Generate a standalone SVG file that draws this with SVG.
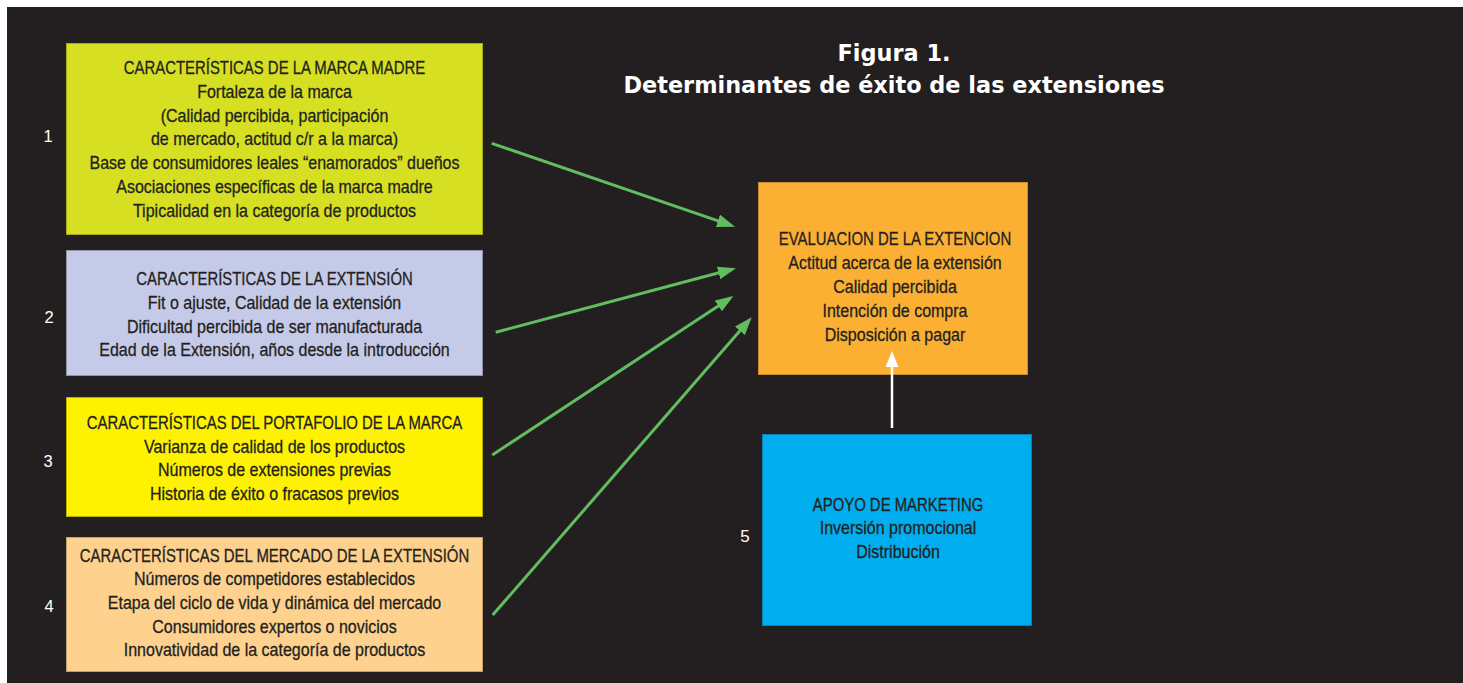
<svg xmlns="http://www.w3.org/2000/svg" width="1463" height="683" viewBox="0 0 1463 683">
  <style>
    .t { font-family: "Liberation Sans", Arial, sans-serif; font-size: 18.4px; fill: #231f20; stroke: #231f20; stroke-width: 0.3px; text-anchor: middle; }
    .num { font-family: "Liberation Sans", Arial, sans-serif; font-size: 16.5px; fill: #ffffff; text-anchor: middle; }
    .ttl { font-family: "DejaVu Sans", "Liberation Sans", sans-serif; font-weight: bold; font-size: 22.4px; fill: #ffffff; text-anchor: middle; }
    .g { stroke: #62bd5f; stroke-width: 3; fill: none; marker-end: url(#ga); }
    .w { stroke: #ffffff; stroke-width: 2.5; fill: none; marker-end: url(#wa); }
  </style>
  <defs>
    <marker id="ga" viewBox="0 0 18 13" markerWidth="18" markerHeight="13" refX="14" refY="6.5" orient="auto" markerUnits="userSpaceOnUse">
      <path d="M0,0 L18,6.5 L0,13 z" fill="#62bd5f"/>
    </marker>
    <marker id="wa" viewBox="0 0 16 13" markerWidth="16" markerHeight="13" refX="12" refY="6.5" orient="auto" markerUnits="userSpaceOnUse">
      <path d="M0,0 L16,6.5 L0,13 z" fill="#ffffff"/>
    </marker>
  </defs>
  <rect x="0" y="0" width="1463" height="683" fill="#ffffff"/>
  <rect x="7" y="7" width="1456" height="676" fill="#231f20"/>

  <g id="title">
    <text class="ttl" x="894" y="61">Figura 1.</text>
    <text class="ttl" x="894" y="93">Determinantes de éxito de las extensiones</text>
  </g>

  <g id="n1">
    <rect x="66.5" y="43.5" width="416" height="191" fill="#d7df23" stroke="#a6ab1b" stroke-width="1"/>
    <g transform="translate(274.5 0) scale(0.81 1)">
      <text class="t" x="0" y="74">CARACTERÍSTICAS DE LA MARCA MADRE</text>
    </g>
    <g transform="translate(274.5 0) scale(0.87 1)">
      <text class="t" x="0" y="97.8">Fortaleza de la marca</text>
      <text class="t" x="0" y="121.6">(Calidad percibida, participación</text>
      <text class="t" x="0" y="145.4">de mercado, actitud c/r a la marca)</text>
      <text class="t" x="0" y="169.2">Base de consumidores leales “enamorados” dueños</text>
      <text class="t" x="0" y="193">Asociaciones específicas de la marca madre</text>
      <text class="t" x="0" y="216.8">Tipicalidad en la categoría de productos</text>
    </g>
    <text class="num" x="48" y="142">1</text>
  </g>

  <g id="n2">
    <rect x="66.5" y="250.5" width="416" height="125" fill="#c5cae9" stroke="#8f93a8" stroke-width="1"/>
    <g transform="translate(274.5 0) scale(0.81 1)">
      <text class="t" x="0" y="285">CARACTERÍSTICAS DE LA EXTENSIÓN</text>
    </g>
    <g transform="translate(274.5 0) scale(0.87 1)">
      <text class="t" x="0" y="308.8">Fit o ajuste, Calidad de la extensión</text>
      <text class="t" x="0" y="332.6">Dificultad percibida de ser manufacturada</text>
      <text class="t" x="0" y="356.4">Edad de la Extensión, años desde la introducción</text>
    </g>
    <text class="num" x="49" y="323">2</text>
  </g>

  <g id="n3">
    <rect x="66.5" y="397.5" width="416" height="119" fill="#fff200" stroke="#b8ae00" stroke-width="1"/>
    <g transform="translate(274.5 0) scale(0.81 1)">
      <text class="t" x="0" y="429">CARACTERÍSTICAS DEL PORTAFOLIO DE LA MARCA</text>
    </g>
    <g transform="translate(274.5 0) scale(0.87 1)">
      <text class="t" x="0" y="452.6">Varianza de calidad de los productos</text>
      <text class="t" x="0" y="476.2">Números de extensiones previas</text>
      <text class="t" x="0" y="499.8">Historia de éxito o fracasos previos</text>
    </g>
    <text class="num" x="48" y="467">3</text>
  </g>

  <g id="n4">
    <rect x="66.5" y="537.5" width="416" height="134" fill="#fed28e" stroke="#c29f6a" stroke-width="1"/>
    <g transform="translate(274.5 0) scale(0.81 1)">
      <text class="t" x="0" y="561.7">CARACTERÍSTICAS DEL MERCADO DE LA EXTENSIÓN</text>
    </g>
    <g transform="translate(274.5 0) scale(0.87 1)">
      <text class="t" x="0" y="585.4">Números de competidores establecidos</text>
      <text class="t" x="0" y="609.1">Etapa del ciclo de vida y dinámica del mercado</text>
      <text class="t" x="0" y="632.8">Consumidores expertos o novicios</text>
      <text class="t" x="0" y="656.5">Innovatividad de la categoría de productos</text>
    </g>
    <text class="num" x="49" y="612">4</text>
  </g>

  <g id="n_eval">
    <rect x="758.5" y="182.5" width="269" height="192" fill="#fbb034" stroke="#c88a2a" stroke-width="1"/>
    <g transform="translate(895 0) scale(0.81 1)">
      <text class="t" x="0" y="245">EVALUACION DE LA EXTENCION</text>
    </g>
    <g transform="translate(895 0) scale(0.87 1)">
      <text class="t" x="0" y="269">Actitud acerca de la extensión</text>
      <text class="t" x="0" y="293">Calidad percibida</text>
      <text class="t" x="0" y="317">Intención de compra</text>
      <text class="t" x="0" y="341">Disposición a pagar</text>
    </g>
  </g>

  <g id="n5">
    <rect x="762.5" y="434.5" width="269" height="191" fill="#00aeef" stroke="#0a80b0" stroke-width="1"/>
    <g transform="translate(898 0) scale(0.81 1)">
      <text class="t" x="0" y="510.7">APOYO DE MARKETING</text>
    </g>
    <g transform="translate(898 0) scale(0.87 1)">
      <text class="t" x="0" y="534.5">Inversión promocional</text>
      <text class="t" x="0" y="558.2">Distribución</text>
    </g>
    <text class="num" x="745" y="541.5" style="font-size:17px">5</text>
  </g>

  <g id="connectors">
    <line class="g" x1="491.7" y1="143.3" x2="731.2" y2="225.4"/>
    <line class="g" x1="495.7" y1="332.3" x2="732.1" y2="269.3"/>
    <line class="g" x1="492.3" y1="455" x2="730" y2="298.2"/>
    <line class="g" x1="492.7" y1="615" x2="749.1" y2="320.3"/>
    <line class="w" x1="892" y1="428" x2="892" y2="355"/>
  </g>
</svg>
